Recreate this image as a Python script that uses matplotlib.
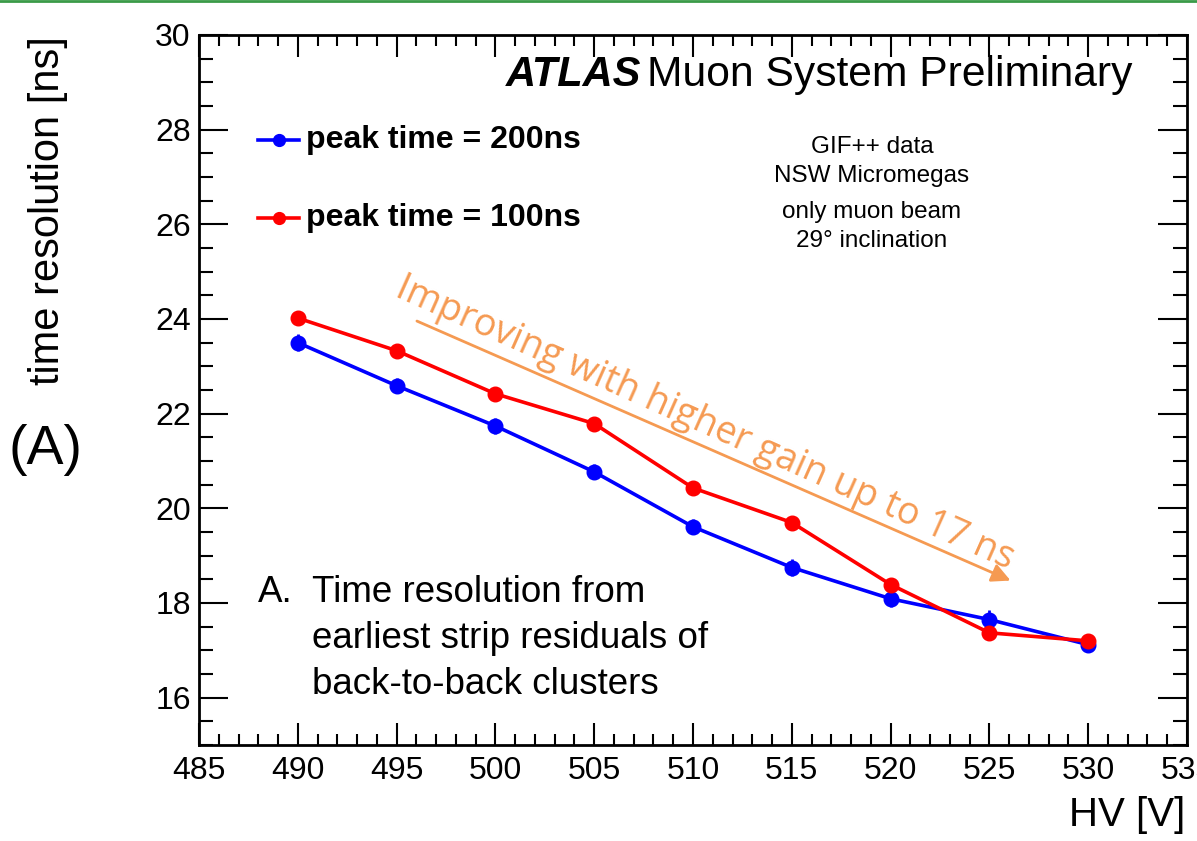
import numpy as np
import matplotlib
matplotlib.use('Agg')
import matplotlib.pyplot as plt
from matplotlib.ticker import MultipleLocator

plt.rcParams['font.family'] = ['Liberation Sans', 'DejaVu Sans']

# data
hv       = [490, 495, 500, 505, 510, 515, 520, 525, 530]
res_200  = [23.50, 22.59, 21.74, 20.77, 19.61, 18.75, 18.09, 17.65, 17.12]
res_100  = [24.02, 23.33, 22.42, 21.79, 20.43, 19.70, 18.39, 17.37, 17.20]
err_200  = [0.18, 0.16, 0.16, 0.16, 0.16, 0.17, 0.18, 0.20, 0.16]
err_100  = [0.14, 0.12, 0.12, 0.12, 0.12, 0.12, 0.12, 0.14, 0.14]
labels   = ['peak time = 200ns', 'peak time = 100ns']
colors   = ['#0000ff', '#ff0000']
info1    = 'GIF++ data\nNSW Micromegas'
info2    = 'only muon beam\n29° inclination'
note     = 'Time resolution from\nearliest strip residuals of\nback-to-back clusters'
orange   = '#f59a52'

fig = plt.figure(figsize=(11.97, 8.41), dpi=100)
ax = fig.add_axes([199/1197, 1-745/841, 988/1197, 710/841])

for y, e, c in [(res_200, err_200, colors[0]), (res_100, err_100, colors[1])]:
  ax.errorbar(hv, y, yerr=e, color=c, lw=2.6, marker='o', ms=10.5,
              elinewidth=2, capsize=0, zorder=3)

ax.set_xlim(485, 535)
ax.set_ylim(15, 30)
ax.xaxis.set_major_locator(MultipleLocator(5))
ax.xaxis.set_minor_locator(MultipleLocator(1))
ax.yaxis.set_major_locator(MultipleLocator(2))
ax.yaxis.set_minor_locator(MultipleLocator(0.5))
ax.tick_params(which='both', direction='in', top=True, right=True, width=1.5, labelsize=23)
ax.tick_params(axis='x', which='major', length=16, pad=8)
ax.tick_params(axis='x', which='minor', length=8)
ax.tick_params(axis='y', which='major', length=21, pad=6)
ax.tick_params(axis='y', which='minor', length=10)
for s in ax.spines.values():
  s.set_linewidth(2)

# manual legend
for yy, c, lab in [(0.852, colors[0], labels[0]), (0.742, colors[1], labels[1])]:
  ax.plot([0.060, 0.101], [yy, yy], color=c, lw=2.6, transform=ax.transAxes)
  ax.plot([0.0805], [yy], 'o', color=c, ms=8.5, transform=ax.transAxes)
  ax.text(0.108, yy, lab, transform=ax.transAxes, fontsize=23, fontweight='bold',
          va='center', ha='left')

ax.text(0.448, 0.944, 'ATLAS', transform=ax.transAxes, fontsize=30, fontweight='bold',
        fontstyle='italic', ha='right', va='center')
ax.text(0.945, 0.944, 'Muon System Preliminary', transform=ax.transAxes, fontsize=30.7,
        ha='right', va='center')

ax.text(0.681, 0.822, info1, transform=ax.transAxes, fontsize=17.5, ha='center',
        va='center', linespacing=1.4)
ax.text(0.681, 0.730, info2, transform=ax.transAxes, fontsize=17.5, ha='center',
        va='center', linespacing=1.4)

ax.text(0.0597, 0.240, 'A.', transform=ax.transAxes, fontsize=26.5, ha='left', va='top')
ax.text(0.1144, 0.240, note, transform=ax.transAxes, fontsize=26.5, ha='left',
        va='top', linespacing=1.42)

# trend arrow and caption
ax.annotate('', xy=(526.2, 18.45), xytext=(495.9, 23.98),
            arrowprops=dict(arrowstyle='-|>', color=orange, lw=2, mutation_scale=28))
ax.text(510.6, 21.8, 'Improving with higher gain up to 17 ns', color=orange,
        family='Open Sans', fontsize=27, rotation=-24, rotation_mode='anchor',
        ha='center', va='center')

fig.text(0.040, 0.750, 'time resolution [ns]', rotation=90, fontsize=30,
         ha='center', va='center')
fig.text(0.0376, 0.465, '(A)', fontsize=40, ha='center', va='center')
fig.text(0.990, 0.031, 'HV [V]', fontsize=29, ha='right', va='center')

fig.add_artist(plt.Line2D([0, 1], [0.9985, 0.9985], transform=fig.transFigure,
                          color='#3a9a48', lw=2))

fig.savefig('out.png', dpi=100)
